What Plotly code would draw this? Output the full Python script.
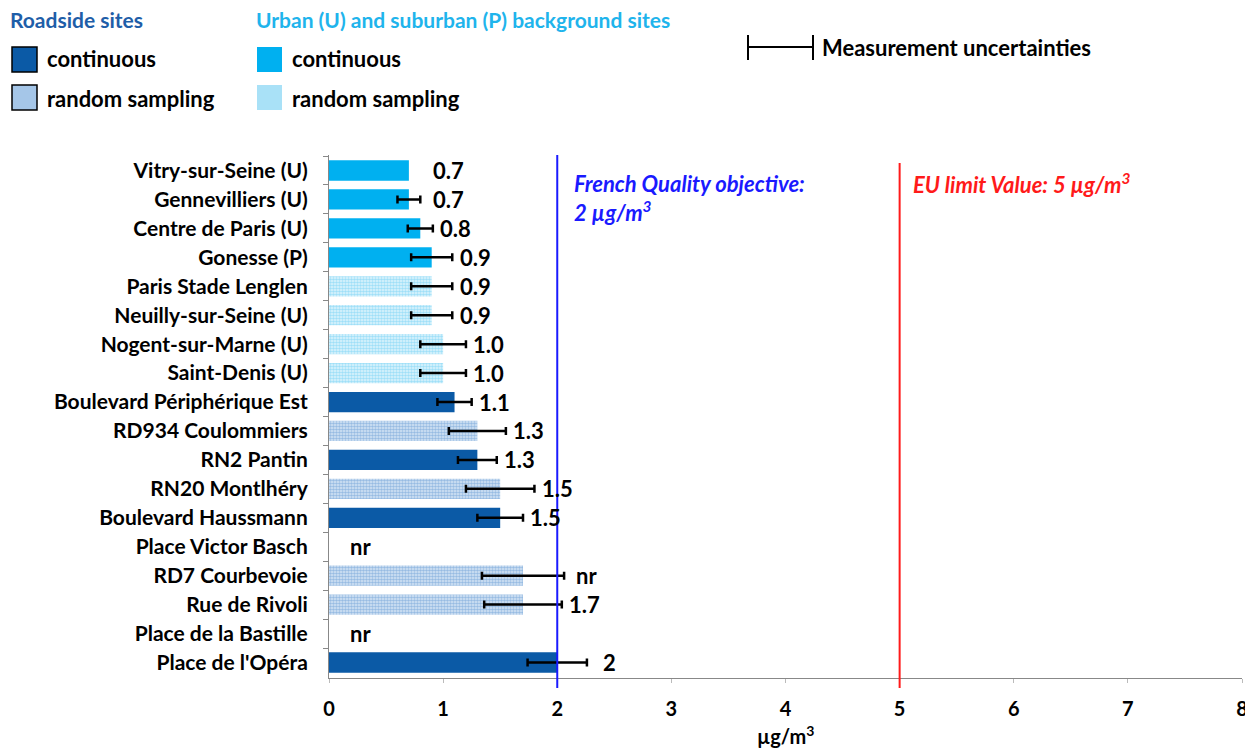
import plotly.graph_objects as go

# ---------------- data ----------------
categories = ["Vitry-sur-Seine (U)", "Gennevilliers (U)", "Centre de Paris (U)", "Gonesse (P)",
              "Paris Stade Lenglen", "Neuilly-sur-Seine (U)", "Nogent-sur-Marne (U)", "Saint-Denis (U)",
              "Boulevard Périphérique Est", "RD934 Coulommiers", "RN2 Pantin", "RN20 Montlhéry",
              "Boulevard Haussmann", "Place Victor Basch", "RD7 Courbevoie", "Rue de Rivoli",
              "Place de la Bastille", "Place de l'Opéra"]
values = [0.7, 0.7, 0.8, 0.9, 0.9, 0.9, 1.0, 1.0, 1.1, 1.3, 1.3, 1.5, 1.5, None, 1.7, 1.7, None, 2.0]
uncertainty = [None, 0.10, 0.11, 0.18, 0.18, 0.18, 0.20, 0.20, 0.15, 0.25, 0.17, 0.30, 0.20, None, 0.36, 0.34, None, 0.26]
site_type = ["U"] * 8 + ["R"] * 10
sampling = ["continuous", "continuous", "continuous", "continuous", "random", "random", "random", "random",
            "continuous", "random", "continuous", "random", "continuous", "continuous", "random", "random",
            "continuous", "continuous"]
value_labels = ["0.7", "0.7", "0.8", "0.9", "0.9", "0.9", "1.0", "1.0", "1.1", "1.3", "1.3", "1.5", "1.5",
                "nr", "nr", "1.7", "nr", "2"]
french_objective = 2
eu_limit = 5
x_ticks = [0, 1, 2, 3, 4, 5, 6, 7, 8]

# ---------------- styling ----------------
FONT = "Lato"
DARK = "#0b5aa6"
CYAN = "#00b0f0"
OFF = 8                      # page body margin in the browser
SCR_W, SCR_H = 1253, 749
PL, PR, PT, PB = 329, 1242, 155, 678   # plot area in screen pixels
W, H = SCR_W - OFF, SCR_H - OFF
L, T = PL - OFF, PT - OFF
R, B = W - (PR - OFF), H - (PB - OFF)


def px(x):
    return (x - PL) / (PR - PL)


def py(y):
    return (PB - y) / (PB - PT)


styles = {
    ("R", "continuous"): dict(color=DARK, line=dict(width=0)),
    ("R", "random"): dict(color="#d9e7f5", line=dict(width=0),
                          pattern=dict(shape=".", fgcolor="#5590cf", size=3, solidity=0.6)),
    ("U", "continuous"): dict(color=CYAN, line=dict(width=0)),
    ("U", "random"): dict(color="#e2f5fd", line=dict(width=0),
                          pattern=dict(shape=".", fgcolor="#5cc9f2", size=3, solidity=0.6)),
}

fig = go.Figure()
for (st, smp), marker in styles.items():
    for has_err in (True, False):
        xs, ys, es = [], [], []
        for c, v, e, t, s in zip(categories, values, uncertainty, site_type, sampling):
            if t == st and s == smp and v is not None and (e is not None) == has_err:
                xs.append(v)
                ys.append(c)
                es.append(e)
        if not xs:
            continue
        fig.add_trace(go.Bar(
            x=xs, y=ys, orientation="h", marker=marker, showlegend=False,
            error_x=dict(type="data", array=es, symmetric=True, color="black",
                         thickness=2.5, width=4, visible=has_err),
        ))

# value labels (placed just right of the bar / uncertainty bar)
for c, v, e, lab in zip(categories, values, uncertainty, value_labels):
    end = max((v or 0) + (e or 0), 0.85)
    xpos = end + 0.2 if v is not None else 0.28
    fig.add_annotation(x=xpos, y=c, xref="x", yref="y", text=f"<b>{lab}</b>", showarrow=False,
                       xanchor="center", yanchor="middle", font=dict(family=FONT, size=22, color="black"))

# reference lines
fig.add_shape(type="line", xref="x", yref="paper", x0=french_objective, x1=french_objective,
              y0=py(688), y1=1, line=dict(color="#1a1aff", width=2))
fig.add_shape(type="line", xref="x", yref="paper", x0=eu_limit, x1=eu_limit,
              y0=py(688), y1=py(163), line=dict(color="#ff1a1a", width=2))
fig.add_annotation(x=french_objective, xshift=15, y=py(184), xref="x", yref="paper",
                   text="<b><i>French Quality objective:</i></b>",
                   showarrow=False, xanchor="left", yanchor="middle",
                   font=dict(family=FONT, size=22, color="#1a1aff"))
fig.add_annotation(x=french_objective, xshift=15, y=py(211), xref="x", yref="paper",
                   text="<b><i>2 µg/m<sup>3</sup></i></b>",
                   showarrow=False, xanchor="left", yanchor="middle",
                   font=dict(family=FONT, size=22, color="#1a1aff"))
fig.add_annotation(x=eu_limit, xshift=11, y=py(184), xref="x", yref="paper",
                   text="<b><i>EU limit Value: 5 µg/m<sup>3</sup></i></b>",
                   showarrow=False, xanchor="left", yanchor="middle",
                   font=dict(family=FONT, size=22, color="#ff1a1a"))

# ---------------- custom legend ----------------
def text(xp, yp, s, color="black", size=22):
    fig.add_annotation(x=px(xp), y=py(yp), xref="paper", yref="paper", text=f"<b>{s}</b>",
                       showarrow=False, xanchor="left", yanchor="middle",
                       font=dict(family=FONT, size=size, color=color))


def swatch(x0, y0, fill, border):
    fig.add_shape(type="rect", xref="paper", yref="paper", x0=px(x0), x1=px(x0 + 25),
                  y0=py(y0 + 25), y1=py(y0), fillcolor=fill,
                  line=dict(color=border, width=1.5 if border != fill else 0))


text(8, 19, "Roadside sites", "#1f5ea8", 21)
text(254, 19, "Urban (U) and suburban (P) background sites", "#1fb4ec", 21)
swatch(12, 47, DARK, "black")
swatch(12, 85, "#a5c6e8", "black")
swatch(257, 47, CYAN, CYAN)
swatch(257, 85, "#a9e1f7", "#a9e1f7")
text(45, 58, "continuous")
text(45, 98, "random sampling")
text(290, 58, "continuous")
text(290, 98, "random sampling")

# measurement uncertainties icon
fig.add_shape(type="line", xref="paper", yref="paper", x0=px(748), x1=px(813), y0=py(47), y1=py(47),
              line=dict(color="black", width=2))
for xx in (748, 813):
    fig.add_shape(type="line", xref="paper", yref="paper", x0=px(xx), x1=px(xx), y0=py(35), y1=py(60),
                  line=dict(color="black", width=2))
text(820, 47, "Measurement uncertainties")

# axis title
fig.add_annotation(x=0.5, y=py(735), xref="paper", yref="paper", text="<b>µg/m<sup>3</sup></b>",
                   showarrow=False, xanchor="center", yanchor="middle",
                   font=dict(family=FONT, size=20, color="black"))

fig.update_layout(
    width=W, height=H,
    margin=dict(l=L, r=R, t=T, b=B, autoexpand=False),
    plot_bgcolor="white", paper_bgcolor="white",
    barmode="overlay", bargap=0.3, showlegend=False,
    font=dict(family=FONT, size=16, color="black"),
    xaxis=dict(range=[0, 8], tickvals=x_ticks, showgrid=False, zeroline=False, automargin=False,
               showline=True, linecolor="#888", linewidth=1, ticks="outside", ticklen=4, tickcolor="#bbb",
               ticklabelstandoff=9,
               tickfont=dict(family=FONT, size=20, color="black", weight="bold")),
    yaxis=dict(categoryorder="array", categoryarray=categories, autorange="reversed", automargin=False,
               showgrid=False, showline=True, linecolor="#888", linewidth=1,
               ticks="outside", ticklen=5, tickcolor="#888", tickson="boundaries",
               ticklabelstandoff=16,
               tickfont=dict(family=FONT, size=21, color="black", weight="bold")),
)

fig.write_html("out.html")
